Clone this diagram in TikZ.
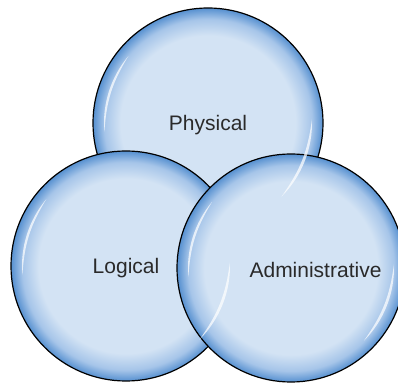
\documentclass[tikz,border=0pt]{standalone}
\usepackage{fontspec}
\setmainfont{Liberation Sans}
\usetikzlibrary{calc}
\definecolor{bubin}{HTML}{D3E3F4}
\definecolor{bubmid}{HTML}{A6C5E9}
\definecolor{bubout}{HTML}{5690D0}
\definecolor{txt}{HTML}{2A2A2A}
\pgfdeclareradialshading{bubble}{\pgfpoint{0bp}{0bp}}{color(0bp)=(bubin); color(19bp)=(bubin); color(22.6bp)=(bubmid); color(25bp)=(bubout); color(50bp)=(bubout)}
\tikzset{
  bub/.style={circle, draw=black, line width=1.2pt, shading=bubble, inner sep=0pt},
  lbl/.style={text=txt, font=\fontsize{21}{25}\selectfont, anchor=base, inner sep=0pt},
  hl/.style={fill=white, fill opacity=0.72, draw=none}
}
\newcommand{\crescent}[4]{%
  \fill[hl] ($(#1)+(#3:#2)$) arc[start angle=#3, end angle=#4, radius=#2] to[bend left=14] ($(#1)+(#3:#2)$);}
\begin{document}
\begin{tikzpicture}[x=1pt,y=1pt]
\useasboundingbox (0,0) rectangle (398,382);
\node[bub, minimum size=230pt] (phys) at (208,259) {};
\node[bub, minimum size=230pt] (logi) at (126,116) {};
\node[bub, minimum size=228pt] (admi) at (291,114) {};
% highlights
\crescent{phys.center}{104pt}{140}{185}
\crescent{phys.center}{104pt}{-45}{2}
\crescent{logi.center}{104pt}{140}{185}
\crescent{logi.center}{104pt}{-45}{2}
\crescent{admi.center}{103pt}{140}{185}
\crescent{admi.center}{103pt}{-45}{2}
% labels
\node[lbl] (tphys) at (208,251.3) {Physical};
\node[lbl] (tlogi) at (126,108.7) {Logical};
\node[lbl] (tadmi) at (315.5,104.7) {Administrative};
\end{tikzpicture}
\end{document}
